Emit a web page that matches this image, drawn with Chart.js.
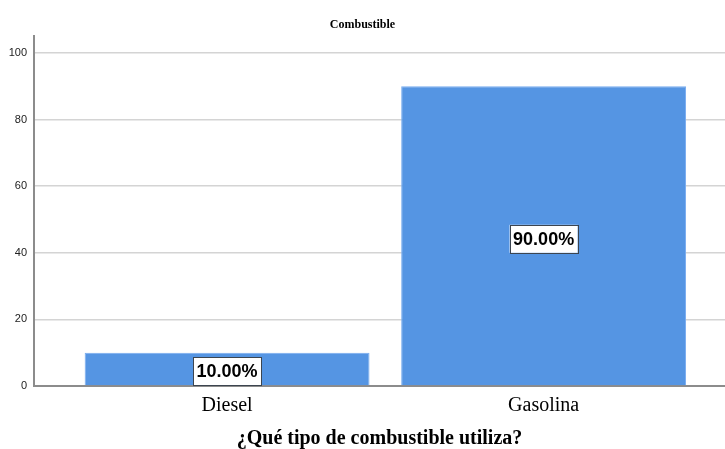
<!DOCTYPE html>
<html>
<head>
<meta charset="utf-8">
<script src="https://cdn.jsdelivr.net/npm/chart.js@4/dist/chart.umd.min.js"></script>
<style>
  html, body { margin: 0; padding: 0; background: #fff; overflow: hidden; }
  #wrap { width: 725px; height: 449px; }
</style>
</head>
<body>
<div id="wrap"><canvas id="myChart"></canvas></div>
<script>
const categories = ["Diesel", "Gasolina"];
const percents = [10, 90];
const yTicks = [0, 20, 40, 60, 80, 100];
const chartTitle = "Combustible";
const xTitle = "¿Qué tipo de combustible utiliza?";

// white boxed percentage in the middle of each bar
const boxLabels = {
  id: "boxLabels",
  afterDatasetsDraw(chart) {
    const ctx = chart.ctx;
    const meta = chart.getDatasetMeta(0);
    ctx.save();
    ctx.font = "bold 18px 'Liberation Sans', Arial, sans-serif";
    ctx.textAlign = "center";
    ctx.textBaseline = "middle";
    meta.data.forEach((bar, i) => {
      const text = percents[i].toFixed(2) + "%";
      const w = ctx.measureText(text).width + 7;
      const h = 28;
      const cy = (bar.y + bar.base) / 2 + 3;
      const top = Math.min(cy - h / 2, bar.base - h);
      ctx.fillStyle = "#fff";
      ctx.fillRect(bar.x - w / 2, top, w, h);
      ctx.strokeStyle = "#3c4550";
      ctx.lineWidth = 1;
      ctx.strokeRect(Math.round(bar.x - w / 2) + 0.5, Math.round(top) + 0.5, Math.round(w), h);
      ctx.fillStyle = "#000";
      ctx.fillText(text, bar.x, top + h / 2 + 1);
    });
    ctx.restore();
  },
};

const config = {
  type: "bar",
  data: {
    datasets: [
      {
        data: percents.map((p, i) => ({ x: i, y: p })),
        backgroundColor: "#5595e3",
        borderColor: "#78acef",
        borderWidth: 1,
        barPercentage: 0.9,
        categoryPercentage: 1,
      },
    ],
  },
  options: {
    responsive: true,
    maintainAspectRatio: false,
    animation: false,
    layout: { padding: { left: 0, right: 0, top: 0, bottom: 0 } },
    plugins: {
      legend: { display: false },
      tooltip: { enabled: false },
      title: {
        display: true,
        text: chartTitle,
        color: "#000",
        font: { family: "'Liberation Serif', 'Times New Roman', serif", size: 12, weight: "bold" },
        padding: { top: 18, bottom: 4 },
      },
    },
    scales: {
      x: {
        type: "linear",
        offset: false,
        min: -0.61,
        max: 1.573,
        afterBuildTicks: (scale) => {
          scale.ticks = categories.map((c, i) => ({ value: i }));
        },
        afterFit: (scale) => {
          scale.height = 63;
        },
        ticks: {
          callback: (v) => categories[v],
          color: "#000",
          padding: 8,
          font: { family: "'Liberation Serif', 'Times New Roman', serif", size: 20 },
        },
        grid: { display: false, drawTicks: false },
        border: { display: true, color: "#8c8c8c", width: 2 },
        title: {
          display: true,
          text: xTitle,
          color: "#000",
          padding: { top: 8, bottom: -2 },
          font: { family: "'Liberation Serif', 'Times New Roman', serif", size: 20, weight: "bold" },
        },
      },
      y: {
        min: 0,
        max: 105,
        afterBuildTicks: (scale) => {
          scale.ticks = yTicks.map((v) => ({ value: v }));
        },
        afterFit: (scale) => {
          scale.width = 34;
        },
        ticks: {
          color: "#222",
          padding: 7,
          font: { family: "'Liberation Sans', Arial, sans-serif", size: 11 },
        },
        grid: { color: "#d4d4d4", lineWidth: 1.5, drawTicks: false },
        border: { display: true, color: "#8c8c8c", width: 2 },
      },
    },
  },
  plugins: [boxLabels],
};

var myChart = new Chart(document.getElementById("myChart"), config);
</script>
</body>
</html>
